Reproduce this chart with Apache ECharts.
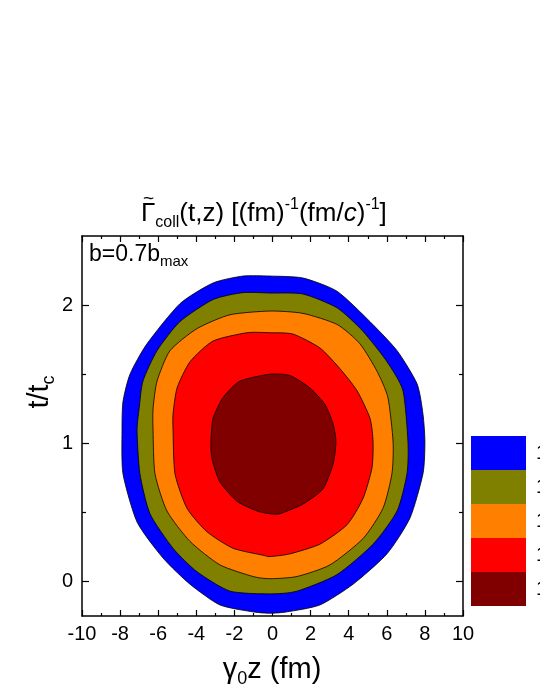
<!DOCTYPE html>
<html>
<head>
<meta charset="utf-8">
<script src="https://cdn.jsdelivr.net/npm/echarts@6/dist/echarts.min.js"></script>
<style>html,body{margin:0;padding:0;background:#fff;}#chart{width:540px;height:699px;}</style>
</head>
<body>
<div id="chart"></div>
<script>
// Axis ticks
const xRange = [-10, 10];
const yRange = [-0.25, 2.5];
const yMajorTicks = [0, 1, 2];
const yMinorTicks = [0.5, 1.5];

// Contour boundaries [gamma0 z (fm), t/tc], outermost first
const blueContour = [[-0.13,2.21],[1.6,2.196],[3.39,2.10],[5.12,1.88],[6.54,1.67],[7.59,1.43],[7.9,1.21],[8.0,1.01],[7.9,0.78],[7.22,0.46],[6.01,0.20],[4.23,-0.02],[2.49,-0.17],[0.76,-0.22],[-0.13,-0.23],[-1.02,-0.22],[-2.76,-0.17],[-4.33,-0.02],[-5.75,0.17],[-7.11,0.43],[-7.85,0.78],[-7.9,1.09],[-7.85,1.30],[-7.48,1.50],[-6.59,1.72],[-4.86,2.01],[-3.12,2.16],[-1.55,2.21]];
const oliveContour = [[-0.13,2.087],[1.6,2.08],[3.39,1.98],[4.75,1.81],[6.01,1.59],[6.85,1.38],[7.11,1.01],[7.06,0.78],[6.54,0.51],[5.28,0.27],[3.39,0.05],[1.29,-0.07],[-0.13,-0.09],[-2.23,-0.07],[-3.96,0.07],[-5.22,0.24],[-6.43,0.49],[-6.96,0.78],[-7.11,1.09],[-7.0,1.25],[-6.8,1.45],[-6.06,1.67],[-4.86,1.88],[-3.12,2.04],[-1.55,2.09]];
const orangeContour = [[-0.13,1.957],[1.6,1.94],[3.39,1.86],[4.59,1.72],[5.49,1.52],[6.06,1.33],[6.33,1.01],[6.27,0.78],[5.8,0.53],[4.75,0.31],[3.02,0.12],[1.29,0.036],[-0.13,0.02],[-1.02,0.036],[-2.76,0.12],[-4.33,0.29],[-5.54,0.51],[-6.17,0.78],[-6.27,1.09],[-6.27,1.25],[-6.06,1.45],[-5.38,1.67],[-3.96,1.83],[-2.23,1.93]];
const redContour = [[-0.13,1.80],[1.08,1.79],[2.49,1.69],[3.54,1.54],[4.44,1.38],[5.12,1.18],[5.28,1.01],[5.22,0.82],[4.75,0.60],[3.91,0.41],[2.49,0.27],[0.92,0.20],[-0.13,0.18],[-0.5,0.19],[-2.07,0.24],[-3.44,0.36],[-4.49,0.53],[-5.12,0.78],[-5.22,1.09],[-5.22,1.21],[-5.01,1.40],[-4.33,1.59],[-3.12,1.74],[-1.34,1.80]];
const darkRedContour = [[-0.13,1.50],[0.92,1.49],[1.97,1.40],[2.76,1.28],[3.18,1.14],[3.33,1.01],[3.18,0.85],[2.65,0.67],[1.6,0.56],[0.39,0.49],[-0.13,0.49],[-0.81,0.51],[-1.86,0.58],[-2.76,0.72],[-3.18,0.89],[-3.23,1.01],[-3.12,1.18],[-2.6,1.33],[-1.71,1.45]];

const levelLabels = ['1.0E-4', '1.0E-3', '1.0E-2', '1.0E-1', '1.0'];
const levelColors = ['#0000ff', '#808000', '#ff8000', '#ff0000', '#800000'];
const contours = [blueContour, oliveContour, orangeContour, redContour, darkRedContour];

const FONT = '"Liberation Sans", Arial, sans-serif';
const chart = echarts.init(document.getElementById('chart'), null, {renderer: 'canvas'});

// Smooth closed outline through the pixel points (cardinal spline, rendering only)
function smoothClosed(pts, steps, tension) {
  const out = [];
  const n = pts.length;
  const s = (1 - tension) / 2;
  for (let i = 0; i < n; i++) {
    const p0 = pts[(i - 1 + n) % n], p1 = pts[i], p2 = pts[(i + 1) % n], p3 = pts[(i + 2) % n];
    const m1 = [s * (p2[0] - p0[0]), s * (p2[1] - p0[1])];
    const m2 = [s * (p3[0] - p1[0]), s * (p3[1] - p1[1])];
    for (let k = 0; k < steps; k++) {
      const t = k / steps, t2 = t * t, t3 = t2 * t;
      const h00 = 2 * t3 - 3 * t2 + 1, h10 = t3 - 2 * t2 + t, h01 = -2 * t3 + 3 * t2, h11 = t3 - t2;
      out.push([
        h00 * p1[0] + h10 * m1[0] + h01 * p2[0] + h11 * m2[0],
        h00 * p1[1] + h10 * m1[1] + h01 * p2[1] + h11 * m2[1]
      ]);
    }
  }
  return out;
}

function contourSeries(points, color, name) {
  return {
    type: 'custom',
    name: name,
    coordinateSystem: 'cartesian2d',
    xAxisIndex: 0, yAxisIndex: 0,
    silent: true,
    itemStyle: {color: color},
    data: points,
    encode: {x: 0, y: 1},
    renderItem: function (params, api) {
      if (params.dataIndex !== 0) return null;
      const pts = points.map(function (p) { return api.coord(p); });
      return {
        type: 'polygon',
        shape: {points: smoothClosed(pts, 8, 0.35)},
        style: {fill: color, stroke: '#000', lineWidth: 0.8, lineJoin: 'round'}
      };
    }
  };
}

const axisLineStyle = {show: true, onZero: false, lineStyle: {color: '#000', width: 1.5}};
const tickLine = {color: '#000', width: 1.2};

const option = {
  backgroundColor: '#fff',
  animation: false,
  grid: {left: 82, right: 77, top: 236, bottom: 83, containLabel: false},
  xAxis: [
    {
      type: 'value', position: 'bottom', min: xRange[0], max: xRange[1], interval: 2,
      axisLine: axisLineStyle,
      axisTick: {show: true, inside: true, length: 6, lineStyle: tickLine},
      minorTick: {show: true, splitNumber: 2, length: 3, lineStyle: tickLine},
      axisLabel: {color: '#000', fontSize: 20, fontFamily: FONT, margin: 8},
      splitLine: {show: false}, minorSplitLine: {show: false}
    },
    {
      type: 'value', position: 'top', min: xRange[0], max: xRange[1], interval: 2,
      axisLine: axisLineStyle,
      axisTick: {show: true, inside: true, length: 6, lineStyle: tickLine},
      minorTick: {show: true, splitNumber: 2, length: 3, lineStyle: tickLine},
      axisLabel: {show: false},
      splitLine: {show: false}, minorSplitLine: {show: false}
    }
  ],
  yAxis: [
    {
      type: 'value', position: 'left', min: yRange[0], max: yRange[1],
      axisLine: axisLineStyle,
      axisTick: {show: true, inside: true, length: 7, customValues: yMajorTicks, lineStyle: tickLine},
      axisLabel: {color: '#000', fontSize: 20, fontFamily: FONT, margin: 9, customValues: yMajorTicks},
      splitLine: {show: false}
    },
    {
      type: 'value', position: 'left', min: yRange[0], max: yRange[1],
      axisLine: {show: false, onZero: false},
      axisTick: {show: true, inside: true, length: 4, customValues: yMinorTicks, lineStyle: tickLine},
      axisLabel: {show: false},
      splitLine: {show: false}
    },
    {
      type: 'value', position: 'right', min: yRange[0], max: yRange[1],
      axisLine: axisLineStyle,
      axisTick: {show: true, inside: true, length: 7, customValues: yMajorTicks, lineStyle: tickLine},
      axisLabel: {show: false},
      splitLine: {show: false}
    },
    {
      type: 'value', position: 'right', min: yRange[0], max: yRange[1],
      axisLine: {show: false, onZero: false},
      axisTick: {show: true, inside: true, length: 4, customValues: yMinorTicks, lineStyle: tickLine},
      axisLabel: {show: false},
      splitLine: {show: false}
    }
  ],
  legend: {
    orient: 'vertical',
    left: 471, top: 436, padding: 0,
    itemWidth: 55, itemHeight: 34, itemGap: 0,
    icon: 'rect',
    selectedMode: false,
    itemStyle: {borderWidth: 0},
    textStyle: {color: '#000', fontSize: 20, fontFamily: FONT, padding: [0, 0, 0, 5]},
    data: levelLabels
  },
  graphic: [
    {
      type: 'text', x: 141, y: 214,
      style: {
        text: '{m|\u0393}{sb|coll}{m|(t,z) [(fm)}{sp|-1}{m|(fm/}{i|c}{m|)}{sp|-1}{m|]}',
        align: 'left', verticalAlign: 'middle',
        rich: {
          m: {fontSize: 26, fontFamily: FONT, fill: '#000', lineHeight: 34},
          i: {fontSize: 26, fontFamily: FONT, fill: '#000', fontStyle: 'italic', lineHeight: 34},
          sb: {fontSize: 16, fontFamily: FONT, fill: '#000', lineHeight: 15, verticalAlign: 'bottom'},
          sp: {fontSize: 16, fontFamily: FONT, fill: '#000', lineHeight: 15, verticalAlign: 'top'}
        }
      }
    },
    {
      type: 'text', x: 148.5, y: 199,
      style: {text: '~', align: 'center', verticalAlign: 'middle', fontSize: 19, fontFamily: FONT, fill: '#000'}
    },
    {
      type: 'text', left: 89, top: 243,
      style: {
        text: '{m|b=0.7b}{s|max}',
        rich: {
          m: {fontSize: 23, fontFamily: FONT, fill: '#000', lineHeight: 30},
          s: {fontSize: 15, fontFamily: FONT, fill: '#000', lineHeight: 14, verticalAlign: 'bottom'}
        }
      }
    },
    {
      type: 'text', x: 272, y: 670,
      style: {
        text: '{m|\u03b3}{s|0}{m|z (fm)}',
        align: 'center', verticalAlign: 'middle',
        rich: {
          m: {fontSize: 29, fontFamily: FONT, fill: '#000', lineHeight: 36},
          s: {fontSize: 18, fontFamily: FONT, fill: '#000', lineHeight: 16, verticalAlign: 'bottom'}
        }
      }
    },
    {
      type: 'text', x: 40, y: 392, rotation: Math.PI / 2,
      style: {
        text: '{m|t/t}{s|c}',
        align: 'center', verticalAlign: 'middle',
        rich: {
          m: {fontSize: 29, fontFamily: FONT, fill: '#000', lineHeight: 36},
          s: {fontSize: 18, fontFamily: FONT, fill: '#000', lineHeight: 16, verticalAlign: 'bottom'}
        }
      }
    }
  ],
  series: contours.map(function (c, i) { return contourSeries(c, levelColors[i], levelLabels[i]); })
};
chart.setOption(option);
</script>
</body>
</html>
